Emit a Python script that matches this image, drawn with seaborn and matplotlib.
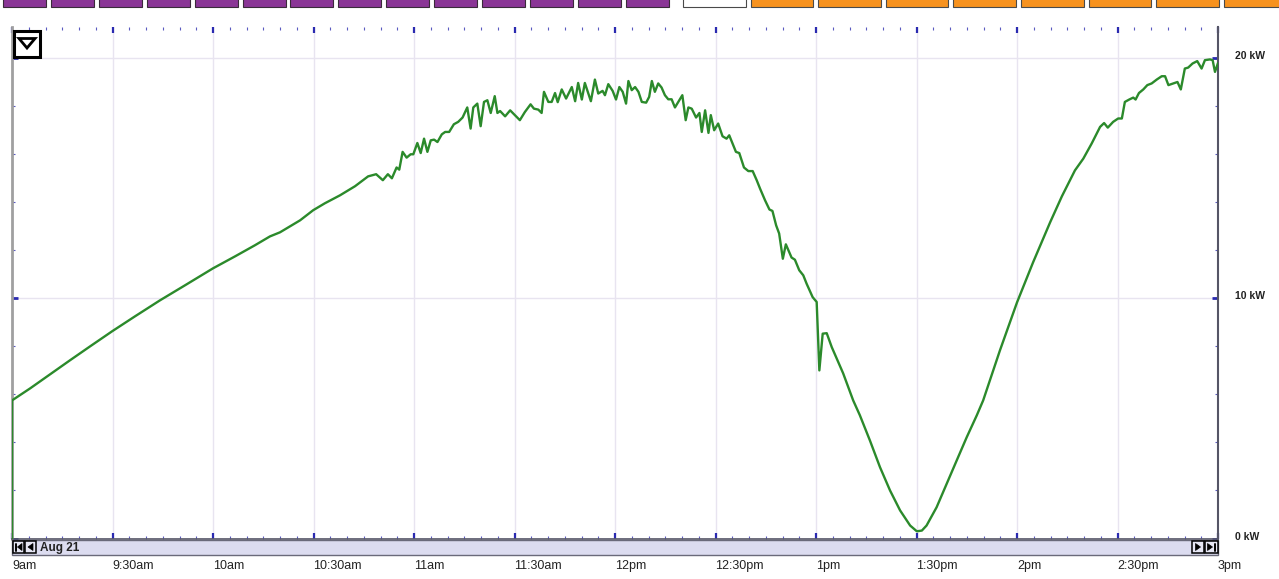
import matplotlib
matplotlib.use("Agg")
import matplotlib.pyplot as plt
import matplotlib.transforms as mtrans
from matplotlib.patches import Rectangle, Polygon
from matplotlib.ticker import MultipleLocator
import pandas as pd
import seaborn as sns

# ---- data (minutes after 9:00am, output in kW) ----
minutes = [0, 0, 5.4, 11.3, 17.3, 23.3, 29.9, 36.7, 44.2, 51.6,
           60.0, 66.6, 72.5, 77.0, 80.0, 83.0, 86.0, 89.9, 93.4, 97.9,
           102.4, 106.3, 108.7, 110.7, 112.2, 113.4, 114.8, 115.6, 116.6, 117.8,
           119.0, 119.8, 121.0, 122.0, 123.0, 124.0, 125.0, 126.0, 127.0, 128.3,
           129.3, 130.5, 131.9, 133.2, 134.5, 135.9, 136.9, 137.7, 138.9, 139.9,
           140.9, 141.9, 142.9, 144.1, 144.9, 145.7, 147.2, 148.7, 150.1, 151.6,
           153.1, 154.8, 155.8, 157.1, 158.1, 158.8, 160.1, 161.1, 162.1, 162.9,
           164.1, 165.4, 167.1, 168.1, 169.0, 170.1, 171.0, 172.8, 174.0, 175.0,
           176.3, 177.0, 178.0, 179.3, 180.3, 181.3, 182.3, 183.3, 184.0, 185.0,
           186.0, 187.0, 188.0, 189.3, 190.2, 191.0, 191.9, 192.9, 193.9, 194.9,
           195.9, 196.9, 197.9, 198.9, 200.1, 201.1, 201.9, 202.9, 204.2, 205.2,
           205.9, 206.9, 207.9, 208.6, 209.6, 210.8, 212.1, 213.3, 214.1, 216.1,
           217.1, 218.5, 219.8, 221.1, 222.3, 223.3, 224.8, 226.1, 227.0, 228.1,
           229.0, 230.1, 231.0, 232.7, 233.7, 235.0, 236.2, 237.2, 239.0, 240.2,
           241.0, 242.0, 243.2, 244.7, 248.1, 251.1, 253.1, 256.1, 259.1, 262.1,
           265.1, 268.1, 270.1, 271.6, 273.0, 276.0, 279.0, 282.0, 285.0, 288.0,
           289.9, 294.9, 300.0, 304.8, 309.9, 313.4, 317.3, 319.8, 322.3, 324.8,
           326.0, 327.1, 328.7, 330.2, 331.3, 332.2, 333.5, 334.7, 335.4, 336.4,
           337.7, 338.9, 340.2, 341.7, 343.2, 344.2, 345.2, 346.7, 347.9, 348.9,
           350.1, 351.1, 352.4, 353.8, 355.1, 356.1, 357.6, 358.4, 359.1, 360.0]

power_kw = [0.0, 5.75, 6.25, 6.83, 7.42, 8.0, 8.63, 9.25, 9.92, 10.54,
            11.25, 11.75, 12.21, 12.58, 12.75, 13.0, 13.25, 13.67, 13.96, 14.29,
            14.67, 15.08, 15.17, 14.92, 15.17, 15.0, 15.45, 15.36, 16.10, 15.86,
            16.0, 16.0, 16.47, 16.05, 16.65, 16.10, 16.58, 16.61, 16.51, 16.83,
            16.93, 16.93, 17.25, 17.35, 17.53, 17.95, 17.07, 17.95, 18.11, 17.17,
            18.18, 18.25, 17.72, 18.42, 17.72, 17.80, 17.58, 17.83, 17.63, 17.42,
            17.76, 18.08, 17.90, 17.86, 17.72, 18.60, 18.18, 18.18, 18.55, 18.17,
            18.70, 18.32, 18.80, 18.21, 18.97, 18.28, 18.97, 18.21, 19.11, 18.53,
            18.64, 18.46, 18.92, 18.64, 18.28, 18.80, 18.60, 18.11, 19.05, 18.67,
            18.80, 18.60, 18.18, 18.15, 18.39, 19.05, 18.60, 18.95, 18.78, 18.46,
            18.29, 18.29, 17.95, 18.18, 18.46, 17.42, 17.95, 17.90, 17.53, 17.72,
            16.93, 17.83, 16.89, 17.63, 17.0, 17.28, 16.75, 16.65, 16.79, 16.10,
            16.05, 15.45, 15.30, 15.30, 14.92, 14.57, 14.08, 13.70, 13.64, 13.04,
            12.70, 11.65, 12.25, 11.70, 11.61, 11.17, 10.96, 10.61, 10.05, 9.85,
            7.0, 8.53, 8.55, 7.97, 6.88, 5.75, 5.13, 4.08, 2.97, 2.0,
            1.17, 0.54, 0.30, 0.33, 0.54, 1.30, 2.28, 3.25, 4.22, 5.13,
            5.75, 7.83, 9.83, 11.5, 13.17, 14.25, 15.33, 15.82, 16.45, 17.14,
            17.30, 17.11, 17.35, 17.49, 17.49, 18.18, 18.28, 18.36, 18.28, 18.55,
            18.70, 18.88, 18.95, 19.11, 19.25, 19.25, 18.88, 18.95, 19.01, 18.70,
            19.57, 19.61, 19.78, 19.88, 19.57, 19.92, 19.95, 19.92, 19.43, 19.80]

x_tick_minutes = [0, 30, 60, 90, 120, 150, 180, 210, 240, 270, 300, 330, 360]
x_tick_labels = ["9am", "9:30am", "10am", "10:30am", "11am", "11:30am", "12pm",
                 "12:30pm", "1pm", "1:30pm", "2pm", "2:30pm", "3pm"]
y_tick_values = [0, 10, 20]
y_tick_labels = ["0 kW", "10 kW", "20 kW"]
date_label = "Aug 21"

assert len(minutes) == len(power_kw)

sns.set_theme(style="white")
plt.rcParams["font.family"] = ["Liberation Sans", "DejaVu Sans"]

W, H = 1279, 579
fig = plt.figure(figsize=(W / 100, H / 100), dpi=100)
fig.patch.set_facecolor("white")

AX_L, AX_R, AX_T, AX_B = 12, 1218, 27, 538.5
ax = fig.add_axes([AX_L / W, 1 - AX_B / H, (AX_R - AX_L) / W, (AX_B - AX_T) / H])
ax.set_facecolor("white")

df = pd.DataFrame({"minutes": minutes, "kW": power_kw})
sns.lineplot(data=df, x="minutes", y="kW", estimator=None, sort=False,
             color="#2b8a2b", linewidth=1.7, ax=ax, zorder=3)

ax.set_xlim(0, 360)
ax.set_ylim(0, 21.3)
ax.set_xlabel("")
ax.set_ylabel("")

ax.set_xticks(x_tick_minutes, x_tick_labels)
ax.xaxis.set_minor_locator(MultipleLocator(5))
ax.set_yticks(y_tick_values, y_tick_labels)
ax.yaxis.set_minor_locator(MultipleLocator(2))
ax.grid(True, which="major", color="#e8e4f0", linewidth=1.0, zorder=0)

tick_col = "#2a2ab0"
ax.tick_params(axis="x", which="major", direction="in", top=True, bottom=True,
               length=4, width=1.6, color=tick_col, labelcolor="#222222",
               labelsize=9, pad=15.5)
ax.tick_params(axis="x", which="minor", direction="in", top=True, bottom=True,
               length=2.5, width=0.8, color="#5a5ac0")
ax.tick_params(axis="y", which="major", direction="in", left=True, right=True,
               labelleft=False, labelright=True, length=4, width=2.0,
               color=tick_col, labelcolor="#222222", labelsize=7.5, pad=12.5)
ax.tick_params(axis="y", which="minor", direction="in", left=True, right=True,
               length=2.5, width=0.8, color="#5a5ac0")

for lbl in ax.get_xticklabels():
    lbl.set_horizontalalignment("left")
for lbl in ax.get_yticklabels():
    lbl.set_fontweight("bold")
    lbl.set_transform(lbl.get_transform() +
                      mtrans.ScaledTranslation(0, 3 / 100, fig.dpi_scale_trans))

ax.spines["top"].set_visible(False)
ax.spines["left"].set_color("#a0a0a0")
ax.spines["left"].set_linewidth(2.0)
ax.spines["bottom"].set_color("#555566")
ax.spines["bottom"].set_linewidth(1.2)
ax.spines["right"].set_color("#555566")
ax.spines["right"].set_linewidth(1.5)

# ---- overlay for UI decorations (pixel coordinates) ----
ov = fig.add_axes([0, 0, 1, 1], facecolor="none")
ov.set_xlim(0, W)
ov.set_ylim(H, 0)
ov.axis("off")

# top toolbar buttons
for i in range(14):
    x0 = 3 + 47.9 * i
    ov.add_patch(Rectangle((x0, -2), 43, 8.5, facecolor="#8a3596",
                           edgecolor="#3a2a3a", linewidth=0.8))
for i in range(9):
    x0 = 683 + 67.6 * i
    fc = "white" if i == 0 else "#f7921e"
    ov.add_patch(Rectangle((x0, -2), 62.5, 8.5, facecolor=fc,
                           edgecolor="#4a4a4a", linewidth=0.8))

# collapse triangle box
ov.add_patch(Rectangle((14, 31), 26, 26, facecolor="white",
                       edgecolor="black", linewidth=2.2))
ov.add_patch(Polygon([(19, 38.5), (35, 38.5), (27, 48)], closed=True,
                     fill=False, edgecolor="black", linewidth=2.0,
                     joinstyle="miter"))

# bottom navigation bar
ov.add_patch(Rectangle((AX_L, 539.5), AX_R - AX_L, 15, facecolor="#dcdcf0",
                       edgecolor="#6a6a7a", linewidth=1.0))


def nav_button(x0, x1, tri, bar_x=None):
    ov.add_patch(Rectangle((x0, 541), x1 - x0, 12, facecolor="#e6e6f4",
                           edgecolor="black", linewidth=1.1))
    ov.add_patch(Polygon(tri, closed=True, facecolor="black",
                         edgecolor="black", linewidth=0.5))
    if bar_x is not None:
        ov.plot([bar_x, bar_x], [543.5, 550.5], color="black", linewidth=1.4)


nav_button(12.7, 24, [(22, 543.5), (22, 550.5), (17.5, 547)], bar_x=15.5)
nav_button(25, 36, [(33, 543.5), (33, 550.5), (28, 547)])
nav_button(1191.7, 1204, [(1195.5, 543.5), (1195.5, 550.5), (1200.5, 547)])
nav_button(1204.7, 1217.7, [(1207.5, 543.5), (1207.5, 550.5), (1212.5, 547)],
           bar_x=1215)
ov.text(40, 547.5, date_label, fontsize=8.5, fontweight="bold",
        color="#222222", va="center", ha="left")

fig.savefig("out.png", dpi=100, facecolor="white")
